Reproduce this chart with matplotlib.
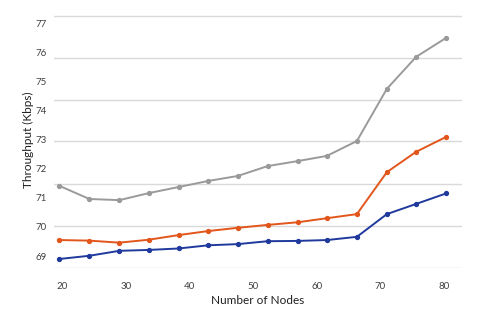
import matplotlib
matplotlib.use('Agg')
import matplotlib.pyplot as plt

plt.rcParams['font.family'] = ['Lato', 'DejaVu Sans']

nodes = [19.6, 24.3, 29.0, 33.6, 38.3, 43.0, 47.6, 52.3, 57.0, 61.6, 66.3, 71.0, 75.6, 80.3]
gray_vals = [71.41, 70.96, 70.92, 71.16, 71.37, 71.58, 71.75, 72.09, 72.26, 72.44, 72.95, 74.74, 75.84, 76.49]
orange_vals = [69.55, 69.53, 69.46, 69.56, 69.72, 69.86, 69.97, 70.07, 70.16, 70.30, 70.44, 71.88, 72.58, 73.09]
blue_vals = [68.90, 69.01, 69.18, 69.21, 69.26, 69.37, 69.41, 69.51, 69.52, 69.55, 69.66, 70.44, 70.79, 71.15]

x_ticks = [20, 30, 40, 50, 60, 70, 80]
y_ticks = [69, 70, 71, 72, 73, 74, 75, 76, 77]
grid_levels = [68.59, 70.03, 71.47, 72.95, 74.36, 75.80, 77.25]

fig = plt.figure(figsize=(4.8, 3.34), dpi=100)
ax = fig.add_axes([0.1125, 0.1976, 0.85, 0.7665])

ax.plot(nodes, gray_vals, color='#9a9a9a', lw=1.4, marker='o', ms=2.8)
ax.plot(nodes, orange_vals, color='#e2561c', lw=1.4, marker='o', ms=2.8)
ax.plot(nodes, blue_vals, color='#1f3a9c', lw=1.4, marker='o', ms=2.8)

ax.set_xlim(18.75, 82.8)
ax.set_ylim(68.59, 77.38)

ax.set_xticks(x_ticks)
ax.set_yticks(y_ticks)
ax.set_yticks(grid_levels, minor=True)
ax.grid(False)
ax.yaxis.grid(True, which='minor', color='#d9d9d9', lw=1.0)
ax.set_axisbelow(True)
ax.tick_params(axis='both', which='both', length=0, labelsize=7, colors='#404040')
ax.tick_params(axis='x', pad=10)
ax.tick_params(axis='y', pad=5)
for s in ax.spines.values():
    s.set_visible(False)

ax.set_xlabel('Number of Nodes', fontsize=8.5, color='#202020', labelpad=3)
ax.set_ylabel('Throughput (Kbps)', fontsize=8.5, color='#202020', labelpad=1)

fig.savefig('out.png', dpi=100)
